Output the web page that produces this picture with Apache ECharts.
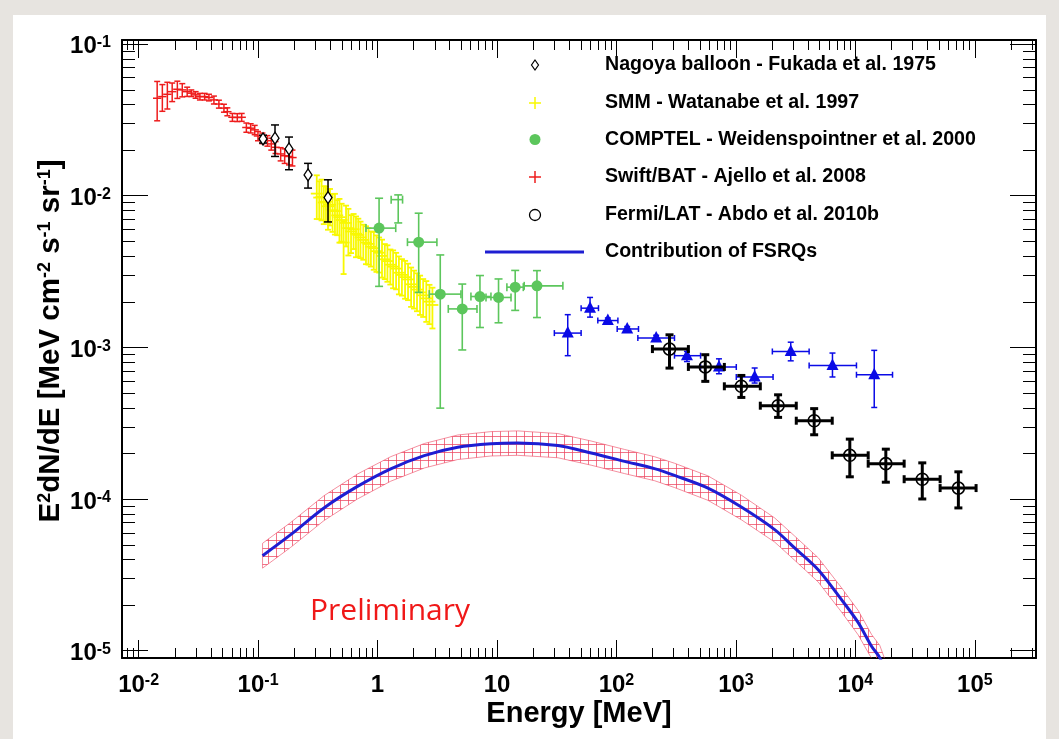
<!DOCTYPE html>
<html>
<head>
<meta charset="utf-8">
<script src="https://cdn.jsdelivr.net/npm/echarts@6/dist/echarts.min.js"></script>
<style>
html, body { margin: 0; padding: 0; background: #e7e4e0; }
#paper { position: absolute; left: 13px; top: 15px; width: 1033px; height: 724px; background: #ffffff; }
#chart { position: absolute; left: 0; top: 0; width: 1059px; height: 739px; }
</style>
</head>
<body>
<div id="paper"></div>
<div id="chart"></div>
<script>
// ---------------- axis ranges and tick labels ----------------
const xMin = 0.00726, xMax = 3.25e5;      // Energy [MeV]
const yMin = 8.95e-6, yMax = 0.106;        // E^2 dN/dE
const xDecades = [-2, -1, 0, 1, 2, 3, 4, 5];
const yDecades = [-5, -4, -3, -2, -1];

// ---------------- Swift/BAT - Ajello et al. 2008 ----------------
const batE = [0.0143, 0.0158, 0.0174, 0.0191, 0.0211, 0.0232, 0.0255, 0.0276, 0.0300, 0.0326,
              0.0357, 0.0388, 0.0427, 0.0470, 0.0518, 0.0553, 0.0610, 0.0670, 0.0729, 0.0798,
              0.0867, 0.0937, 0.0998, 0.1087, 0.1197, 0.129, 0.140, 0.1545, 0.167, 0.1815, 0.194];
const batV = [0.0438, 0.0449, 0.0465, 0.0484, 0.0502, 0.0497, 0.0484, 0.0473, 0.0461, 0.0449,
              0.0449, 0.0443, 0.0427, 0.0401, 0.0377, 0.0357, 0.0328, 0.0327, 0.0328, 0.0281,
              0.0278, 0.0271, 0.0247, 0.0239, 0.0230, 0.0219, 0.0208, 0.0188, 0.0183, 0.0181, 0.0178];
const batErr = [0.29, 0.20, 0.20, 0.14, 0.13, 0.10, 0.07, 0.05, 0.05, 0.05,
                0.05, 0.05, 0.06, 0.06, 0.06, 0.06, 0.06, 0.06, 0.06, 0.07,
                0.07, 0.07, 0.07, 0.08, 0.08, 0.09, 0.09, 0.10, 0.11, 0.12, 0.12];
const batHalfDex = 0.035;

// ---------------- Nagoya balloon - Fukada et al. 1975 ----------------
const ngyE = [0.110, 0.1386, 0.1815, 0.262, 0.385];
const ngyV = [0.0236, 0.0239, 0.0203, 0.01368, 0.0097];
const ngyLo = [0.0222, 0.0181, 0.0148, 0.0112, 0.0067];
const ngyHi = [0.0250, 0.0292, 0.0243, 0.0163, 0.0127];

// ---------------- SMM - Watanabe et al. 1997 ----------------
const smmE = [0.31, 0.325, 0.34, 0.355, 0.37, 0.385, 0.40, 0.42, 0.44, 0.46,
              0.48, 0.50, 0.52, 0.545, 0.57, 0.60, 0.63, 0.66, 0.69, 0.72,
              0.76, 0.80, 0.84, 0.88, 0.93, 0.98, 1.03, 1.09, 1.15, 1.21,
              1.28, 1.35, 1.43, 1.51, 1.60, 1.70, 1.80, 1.91, 2.02, 2.14,
              2.27, 2.41, 2.56, 2.72, 2.88];
const smmV = [0.0103, 0.0097, 0.0098, 0.0090, 0.0091, 0.0085, 0.0087, 0.0080, 0.0079, 0.0074,
              0.0072, 0.0069, 0.0049, 0.0066, 0.0061, 0.0058, 0.0060, 0.0056, 0.0055, 0.0053,
              0.0051, 0.0049, 0.0048, 0.0046, 0.0045, 0.0043, 0.0042, 0.0040, 0.0038, 0.0037,
              0.0035, 0.0034, 0.0033, 0.0031, 0.0030, 0.0029, 0.0028, 0.0026, 0.0025, 0.0024,
              0.0023, 0.0022, 0.0021, 0.0020, 0.0019];
const smmErr = [0.32, 0.28, 0.30, 0.28, 0.26, 0.30, 0.27, 0.28, 0.30, 0.26,
                0.32, 0.28, 0.38, 0.30, 0.34, 0.28, 0.26, 0.30, 0.28, 0.27,
                0.26, 0.28, 0.27, 0.26, 0.28, 0.27, 0.26, 0.28, 0.26, 0.27,
                0.26, 0.28, 0.27, 0.28, 0.27, 0.28, 0.27, 0.29, 0.28, 0.28,
                0.29, 0.28, 0.30, 0.29, 0.30];
const smmHalfDex = 0.05;

// ---------------- COMPTEL - Weidenspointner et al. 2000 ----------------
const cmpE  = [1.03, 2.21, 3.35, 5.12, 7.2, 10.3, 14.2, 21.6];
const cmpV  = [0.0061, 0.00493, 0.00224, 0.00179, 0.00216, 0.00213, 0.00249, 0.00254];
const cmpElo = [0.80, 1.78, 2.71, 3.91, 6.05, 8.09, 12.1, 16.9];
const cmpEhi = [1.42, 3.14, 4.99, 6.8, 8.9, 13.1, 16.6, 35.6];
const cmpLo = [0.00252, 0.0023, 0.000397, 0.00096, 0.00135, 0.00145, 0.00175, 0.00157];
const cmpHi = [0.0096, 0.00765, 0.00406, 0.00261, 0.00297, 0.00282, 0.00321, 0.0032];
// COMPTEL bin drawn without its marker
const cmpXE = [1.49], cmpXV = [0.0094], cmpXElo = [1.30], cmpXEhi = [1.62], cmpXLo = [0.0066], cmpXHi = [0.0101];

// ---------------- blue triangles ----------------
const triE  = [39.1, 60.1, 84.7, 123, 215, 389, 721, 1435, 2876, 6430, 14380];
const triV  = [0.00124, 0.00181, 0.00150, 0.00132, 0.00115, 0.00088, 0.000741, 0.000637, 0.000938, 0.000759, 0.000659];
const triElo = [30.2, 50.6, 69.8, 101.4, 151, 306, 506, 1007, 2018, 4100, 10210];
const triEhi = [50.6, 70.7, 102.8, 152.9, 306, 506, 1007, 2046, 4100, 10210, 20460];
const triLo = [0.00088, 0.00158, 0.00144, 0.00127, 0.00110, 0.000805, 0.000669, 0.000581, 0.000814, 0.000637, 0.000401];
const triHi = [0.00164, 0.00213, 0.00156, 0.00137, 0.00120, 0.000938, 0.000839, 0.000730, 0.00108, 0.000916, 0.000954];

// ---------------- Fermi/LAT - Abdo et al. 2010b ----------------
const latE  = [278, 554, 1110, 2254, 4518, 8980, 17980, 36300, 72800];
const latV  = [0.000973, 0.000742, 0.000553, 0.000412, 0.000328, 0.000194, 0.000171, 0.000135, 0.000118];
const latElo = [200, 400, 800, 1600, 3200, 6400, 12800, 25600, 51200];
const latEhi = [400, 800, 1600, 3200, 6400, 12800, 25600, 51200, 102400];
const latLo = [0.000729, 0.000596, 0.000467, 0.000345, 0.000265, 0.000140, 0.000129, 0.000100, 0.0000873];
const latHi = [0.001208, 0.000893, 0.000652, 0.000486, 0.000394, 0.000248, 0.000213, 0.000173, 0.000151];

// ---------------- Contribution of FSRQs (curve and uncertainty band) ----------------
const fsrqE = [0.109, 0.1875, 0.356, 0.679, 1.29, 2.46, 4.69, 8.9, 14.9, 32.3, 61.4, 117,
               208, 306, 583, 1109, 2110, 3100, 4880, 7650, 10560, 13650, 16030, 18000];
const fsrqV = [4.23e-5, 5.82e-5, 8.73e-5, 1.21e-4, 1.58e-4, 1.93e-4, 2.19e-4, 2.31e-4, 2.34e-4, 2.25e-4, 2.01e-4, 1.77e-4,
               1.585e-4, 1.43e-4, 1.18e-4, 8.85e-5, 6.28e-5, 4.76e-5, 3.42e-5, 2.17e-5, 1.53e-5, 1.07e-5, 8.96e-6, 7.0e-6];
const fsrqLo = [3.5e-5, 4.8e-5, 7.2e-5, 1.0e-4, 1.31e-4, 1.60e-4, 1.82e-4, 1.92e-4, 1.94e-4, 1.87e-4, 1.67e-4, 1.47e-4,
                1.32e-4, 1.19e-4, 9.8e-5, 7.3e-5, 5.2e-5, 3.95e-5, 2.84e-5, 1.80e-5, 1.27e-5, 8.9e-6, 7.4e-6, 5.8e-6];
const fsrqHi = [5.1e-5, 7.0e-5, 1.05e-4, 1.46e-4, 1.90e-4, 2.32e-4, 2.64e-4, 2.78e-4, 2.81e-4, 2.70e-4, 2.41e-4, 2.12e-4,
                1.90e-4, 1.72e-4, 1.42e-4, 1.06e-4, 7.5e-5, 5.7e-5, 4.1e-5, 2.6e-5, 1.84e-5, 1.28e-5, 1.08e-5, 8.4e-6];

// ---------------- legend ----------------
const legendLabels = [
  'Nagoya balloon - Fukada et al. 1975',
  'SMM - Watanabe et al. 1997',
  'COMPTEL - Weidenspointner et al. 2000',
  'Swift/BAT - Ajello et al. 2008',
  'Fermi/LAT - Abdo et al. 2010b',
  'Contribution of FSRQs'
];

// ---------------- styling ----------------
const tickFont = "'Liberation Sans', Arial, sans-serif";
const textFont = "'Liberation Sans', Arial, sans-serif";
const RED = '#ee1c1c', YELLOW = '#f8f800', GREEN = '#5cc65c', BLUE = '#0a0ae6', CURVE = '#1e1ed2';

// rows: [E, V, Elo, Ehi, Vlo, Vhi]
function rowsRel(E, V, err, halfDex) {
  const f = Math.pow(10, halfDex);
  return E.map((e, i) => [e, V[i], e / f, e * f, V[i] * (1 - err[i]), V[i] * (1 + err[i])]);
}
function rowsAbs(E, V, Elo, Ehi, Lo, Hi) {
  return E.map((e, i) => [e, V[i], Elo ? Elo[i] : e, Ehi ? Ehi[i] : e, Lo[i], Hi[i]]);
}

function pointRenderer(st) {
  return function (params, api) {
    const e = api.value(0), v = api.value(1);
    const c = api.coord([e, v]);
    const kids = [];
    const ls = { stroke: st.color, lineWidth: st.lw };
    const hc = st.cap / 2;
    if (st.hbar) {
      const l = api.coord([api.value(2), v]), r = api.coord([api.value(3), v]);
      kids.push({ type: 'line', shape: { x1: l[0], y1: c[1], x2: r[0], y2: c[1] }, style: ls });
      if (st.hcap) {
        kids.push({ type: 'line', shape: { x1: l[0], y1: c[1] - hc, x2: l[0], y2: c[1] + hc }, style: ls });
        kids.push({ type: 'line', shape: { x1: r[0], y1: c[1] - hc, x2: r[0], y2: c[1] + hc }, style: ls });
      }
    }
    const lo = api.coord([e, api.value(4)]), hi = api.coord([e, api.value(5)]);
    kids.push({ type: 'line', shape: { x1: c[0], y1: hi[1], x2: c[0], y2: lo[1] }, style: ls });
    kids.push({ type: 'line', shape: { x1: c[0] - hc, y1: hi[1], x2: c[0] + hc, y2: hi[1] }, style: ls });
    kids.push({ type: 'line', shape: { x1: c[0] - hc, y1: lo[1], x2: c[0] + hc, y2: lo[1] }, style: ls });
    const x = c[0], y = c[1];
    if (st.marker === 'circle') {
      kids.push({ type: 'circle', shape: { cx: x, cy: y, r: 5.5 }, style: { fill: st.color } });
    } else if (st.marker === 'ocircle') {
      kids.push({ type: 'circle', shape: { cx: x, cy: y, r: 6 }, style: { fill: 'none', stroke: st.color, lineWidth: 1.6 } });
    } else if (st.marker === 'diamond') {
      kids.push({ type: 'polygon', shape: { points: [[x, y - 6], [x + 4, y], [x, y + 6], [x - 4, y]] },
                  style: { fill: '#fff', stroke: st.color, lineWidth: 1.3 } });
    } else if (st.marker === 'triangle') {
      kids.push({ type: 'polygon', shape: { points: [[x, y - 7], [x + 6, y + 4.5], [x - 6, y + 4.5]] },
                  style: { fill: st.color } });
    }
    return { type: 'group', children: kids };
  };
}

function dataSeries(name, rows, st, z) {
  return {
    name: name, type: 'custom', data: rows, z: z, silent: true,
    encode: { x: 0, y: 1 }, renderItem: pointRenderer(st)
  };
}

function makeHatch() {
  const c = document.createElement('canvas');
  c.width = 8; c.height = 8;
  const g = c.getContext('2d');
  g.strokeStyle = 'rgba(236,70,96,0.75)';
  g.lineWidth = 1;
  g.beginPath();
  g.moveTo(4.5, 0); g.lineTo(4.5, 8);
  g.moveTo(0, 4.5); g.lineTo(8, 4.5);
  g.stroke();
  return c;
}
const hatch = makeHatch();

function decadeLabel(list) {
  return function (v) {
    const p = Math.log10(v), n = Math.round(p);
    if (Math.abs(p - n) > 1e-6 || list.indexOf(n) < 0) return '';
    if (n === 0) return '{b|1}';
    if (n === 1) return '{b|10}';
    return '{b|10}{s|' + (n < 0 ? '-' + (-n) : String(n)) + '}';
  };
}
const labelRich = {
  b: { fontFamily: tickFont, fontWeight: 'bold', fontSize: 24, lineHeight: 24, color: '#000' },
  s: { fontFamily: tickFont, fontWeight: 'bold', fontSize: 16, lineHeight: 16, color: '#000', verticalAlign: 'top' }
};

// minor tick positions (2..9 x 10^n) inside the axis ranges
const xMinor = [], yMinor = [];
for (let n = -3; n <= 5; n++) for (let k = 2; k <= 9; k++) {
  const v = k * Math.pow(10, n);
  if (v > xMin && v < xMax) xMinor.push(v);
}
for (let n = -6; n <= -1; n++) for (let k = 2; k <= 9; k++) {
  const v = k * Math.pow(10, n);
  if (v > yMin && v < yMax) yMinor.push(v);
}

const frameLine = { show: true, lineStyle: { color: '#000', width: 2 } };
const chart = echarts.init(document.getElementById('chart'));

// legend rows
const legY = [65, 103, 139.5, 177, 215, 252];
const legMarkX = 535, legTextX = 605;
const legendGraphics = [
  { type: 'polygon', shape: { points: [[legMarkX, legY[0] - 5], [legMarkX + 3.5, legY[0]], [legMarkX, legY[0] + 5], [legMarkX - 3.5, legY[0]]] },
    style: { fill: '#fff', stroke: '#000', lineWidth: 1.2 } },
  { type: 'line', shape: { x1: legMarkX - 6, y1: legY[1], x2: legMarkX + 6, y2: legY[1] }, style: { stroke: YELLOW, lineWidth: 1.5 } },
  { type: 'line', shape: { x1: legMarkX, y1: legY[1] - 6, x2: legMarkX, y2: legY[1] + 6 }, style: { stroke: YELLOW, lineWidth: 1.5 } },
  { type: 'circle', shape: { cx: legMarkX, cy: legY[2], r: 5.5 }, style: { fill: GREEN } },
  { type: 'line', shape: { x1: legMarkX - 6, y1: legY[3], x2: legMarkX + 6, y2: legY[3] }, style: { stroke: RED, lineWidth: 1.5 } },
  { type: 'line', shape: { x1: legMarkX, y1: legY[3] - 6, x2: legMarkX, y2: legY[3] + 6 }, style: { stroke: RED, lineWidth: 1.5 } },
  { type: 'circle', shape: { cx: legMarkX, cy: legY[4], r: 5.5 }, style: { fill: 'none', stroke: '#000', lineWidth: 1.3 } },
  { type: 'line', shape: { x1: 485, y1: legY[5], x2: 584, y2: legY[5] }, style: { stroke: CURVE, lineWidth: 3 } }
];
legendLabels.forEach((t, i) => legendGraphics.push({
  type: 'text', x: legTextX, y: legY[i],
  style: { text: t, fill: '#000', fontFamily: textFont, fontWeight: 'bold', fontSize: 19.6, align: 'left', verticalAlign: 'middle' }
}));

const option = {
  animation: false,
  backgroundColor: 'transparent',
  grid: { left: 122, right: 23, top: 40, bottom: 81, containLabel: false },
  xAxis: [
    { type: 'log', logBase: 10, min: xMin, max: xMax, position: 'bottom',
      axisLine: frameLine,
      axisTick: { show: true, inside: true, length: 18, lineStyle: { color: '#000', width: 1 } },
      axisLabel: { show: true, margin: 15, formatter: decadeLabel(xDecades), rich: labelRich, hideOverlap: false },
      splitLine: { show: false }, minorTick: { show: false } },
    { type: 'log', logBase: 10, min: xMin, max: xMax, position: 'top',
      axisLine: frameLine,
      axisTick: { show: true, inside: true, length: 18, lineStyle: { color: '#000', width: 1 } },
      axisLabel: { show: false }, splitLine: { show: false } }
  ],
  yAxis: [
    { type: 'log', logBase: 10, min: yMin, max: yMax, position: 'left',
      axisLine: frameLine,
      axisTick: { show: true, inside: true, length: 26, lineStyle: { color: '#000', width: 1 } },
      axisLabel: { show: true, margin: 11, formatter: decadeLabel(yDecades), rich: labelRich, padding: [6, 0, 0, 0], hideOverlap: false },
      splitLine: { show: false } },
    { type: 'log', logBase: 10, min: yMin, max: yMax, position: 'right',
      axisLine: frameLine,
      axisTick: { show: true, inside: true, length: 26, lineStyle: { color: '#000', width: 1 } },
      axisLabel: { show: false }, splitLine: { show: false } }
  ],
  graphic: [
    { type: 'text', x: 579, y: 714,
      style: { text: 'Energy [MeV]', fill: '#000', fontFamily: textFont, fontWeight: 'bold', fontSize: 29, align: 'center', verticalAlign: 'middle' } },
    { type: 'text', x: 51, y: 341, rotation: Math.PI / 2,
      style: {
        text: '{t|E}{u|2}{t|dN/dE [MeV cm}{u|-2}{t| s}{u|-1}{t| sr}{u|-1}{t|]}',
        align: 'center', verticalAlign: 'middle',
        rich: {
          t: { fontFamily: textFont, fontWeight: 'bold', fontSize: 29.5, lineHeight: 30, fill: '#000' },
          u: { fontFamily: textFont, fontWeight: 'bold', fontSize: 18, lineHeight: 18, fill: '#000', verticalAlign: 'top' }
        }
      } },
    { type: 'text', x: 390, y: 611,
      style: { text: 'Preliminary', fill: '#f01818', fontFamily: "'Open Sans', Lato, sans-serif", fontSize: 30, align: 'center', verticalAlign: 'middle' } }
  ].concat(legendGraphics),
  series: [
    { name: 'x minor ticks', type: 'custom', silent: true, z: 1,
      data: xMinor.map(v => [v, yMax]), encode: { x: 0, y: 1 },
      renderItem: function (params, api) {
        const cs = params.coordSys;
        const x = Math.round(api.coord([api.value(0), yMax])[0]) + 0.5;
        const b = cs.y + cs.height, t = cs.y;
        const s = { stroke: '#000', lineWidth: 1 };
        return { type: 'group', children: [
          { type: 'line', shape: { x1: x, y1: b, x2: x, y2: b - 10 }, style: s },
          { type: 'line', shape: { x1: x, y1: t, x2: x, y2: t + 10 }, style: s }
        ] };
      } },
    { name: 'y minor ticks', type: 'custom', silent: true, z: 1,
      data: yMinor.map(v => [xMax, v]), encode: { x: 0, y: 1 },
      renderItem: function (params, api) {
        const cs = params.coordSys;
        const y = Math.round(api.coord([xMax, api.value(1)])[1]) + 0.5;
        const l = cs.x, r = cs.x + cs.width;
        const s = { stroke: '#000', lineWidth: 1 };
        return { type: 'group', children: [
          { type: 'line', shape: { x1: l, y1: y, x2: l + 13, y2: y }, style: s },
          { type: 'line', shape: { x1: r, y1: y, x2: r - 13, y2: y }, style: s }
        ] };
      } },
    { name: 'FSRQ band', type: 'custom', silent: true, z: 3, clip: true,
      data: fsrqE.map((e, i) => [e, fsrqV[i], fsrqLo[i], fsrqHi[i]]), encode: { x: 0, y: 1 },
      renderItem: function (params, api) {
        if (params.dataIndex !== 0) return null;
        const up = fsrqE.map((e, i) => api.coord([e, fsrqHi[i]]));
        const dn = fsrqE.map((e, i) => api.coord([e, fsrqLo[i]])).reverse();
        return { type: 'polygon', shape: { points: up.concat(dn) },
                 style: { fill: { image: hatch, repeat: 'repeat' }, stroke: 'rgba(236,70,96,0.6)', lineWidth: 1 } };
      } },
    { name: 'Contribution of FSRQs', type: 'line', z: 4, clip: true, silent: true,
      data: fsrqE.map((e, i) => [e, fsrqV[i]]), showSymbol: false, smooth: 0.3,
      lineStyle: { color: CURVE, width: 3 } },
    dataSeries('Swift/BAT', rowsRel(batE, batV, batErr, batHalfDex),
               { color: RED, lw: 1.5, cap: 6, hbar: true, hcap: false, marker: 'none' }, 5),
    dataSeries('SMM', rowsRel(smmE, smmV, smmErr, smmHalfDex),
               { color: YELLOW, lw: 1.8, cap: 6, hbar: true, hcap: false, marker: 'none' }, 6),
    dataSeries('Nagoya balloon', rowsAbs(ngyE, ngyV, null, null, ngyLo, ngyHi),
               { color: '#000', lw: 1.5, cap: 8, hbar: false, marker: 'diamond' }, 7),
    dataSeries('COMPTEL', rowsAbs(cmpE, cmpV, cmpElo, cmpEhi, cmpLo, cmpHi),
               { color: GREEN, lw: 1.6, cap: 8, hbar: true, hcap: true, marker: 'circle' }, 8),
    dataSeries('COMPTEL bin', rowsAbs(cmpXE, cmpXV, cmpXElo, cmpXEhi, cmpXLo, cmpXHi),
               { color: GREEN, lw: 1.6, cap: 8, hbar: true, hcap: true, marker: 'none' }, 8),
    dataSeries('triangles', rowsAbs(triE, triV, triElo, triEhi, triLo, triHi),
               { color: BLUE, lw: 1.5, cap: 6, hbar: true, hcap: true, marker: 'triangle' }, 9),
    dataSeries('Fermi/LAT', rowsAbs(latE, latV, latElo, latEhi, latLo, latHi),
               { color: '#000', lw: 3, cap: 8, hbar: true, hcap: true, marker: 'ocircle' }, 10)
  ]
};
chart.setOption(option);
</script>
</body>
</html>
